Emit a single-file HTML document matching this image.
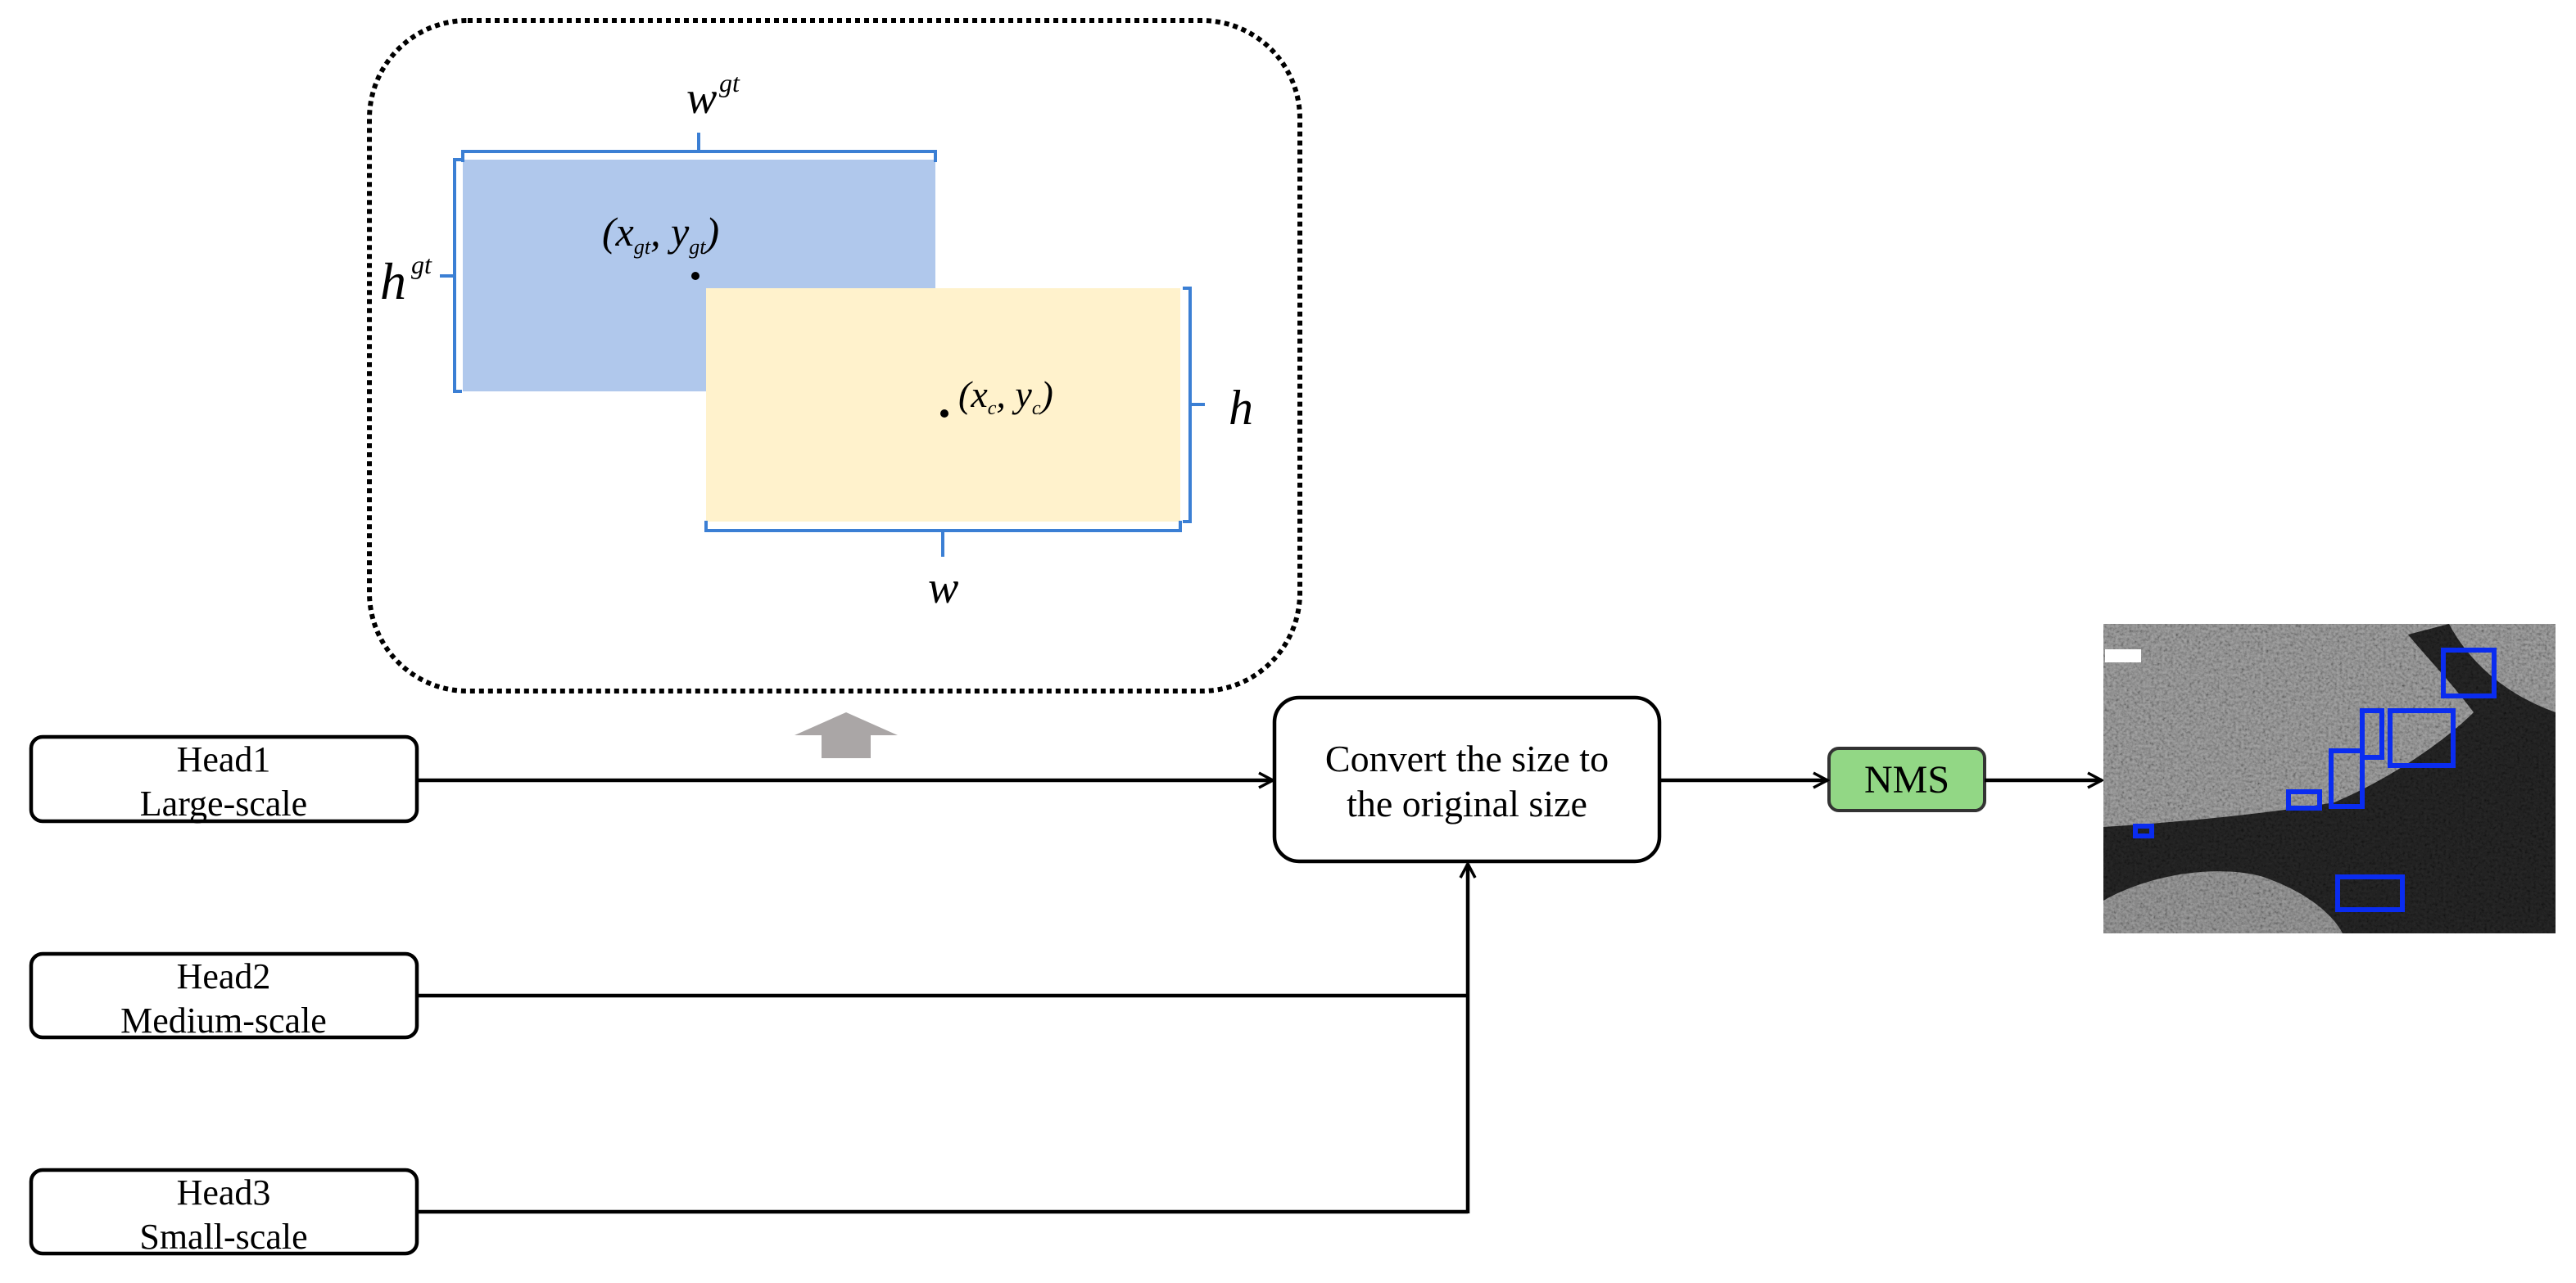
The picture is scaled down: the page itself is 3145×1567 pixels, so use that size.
<!DOCTYPE html>
<html><head><meta charset="utf-8"><style>
html,body{margin:0;padding:0;background:#fff}
svg{display:block}
text{font-family:"Liberation Serif",serif}
</style></head><body>
<svg width="3145" height="1567" viewBox="0 0 3145 1567" xmlns="http://www.w3.org/2000/svg">
<defs>
<marker id="ar" markerWidth="22" markerHeight="22" refX="19" refY="11" orient="auto" markerUnits="userSpaceOnUse">
<path d="M2,2 L19,11 L2,20" fill="none" stroke="#000" stroke-width="3.5"/>
</marker>
<filter id="noise" x="0" y="0" width="100%" height="100%">
<feTurbulence type="fractalNoise" baseFrequency="0.3" numOctaves="3" seed="3" result="n"/>
<feColorMatrix type="saturate" values="0" in="n" result="g"/>
<feComponentTransfer in="g" result="c"><feFuncR type="linear" slope="2.2" intercept="-0.5"/><feFuncG type="linear" slope="2.2" intercept="-0.5"/><feFuncB type="linear" slope="2.2" intercept="-0.5"/></feComponentTransfer>
<feBlend in="SourceGraphic" in2="c" mode="multiply"/>
</filter>
<clipPath id="imgclip"><rect x="2568" y="762" width="552" height="378"/></clipPath>
</defs>

<rect x="451" y="25" width="1136" height="819" rx="120" fill="none" stroke="#000" stroke-width="6" stroke-dasharray="6,5"/>

<rect x="565" y="195" width="577" height="283" fill="#b0c8ec"/>
<rect x="862" y="352" width="579" height="285" fill="#fff2cc"/>

<g fill="none" stroke="#3b7fd4" stroke-width="4">
<path d="M565,198 V185 H1142 V198 M853,185 V162"/>
<path d="M564,195 H555 V478 H564 M555,337 H537"/>
<path d="M1444,352 H1453 V637 H1444 M1453,494 H1471"/>
<path d="M862,636 V648 H1441 V636 M1151,648 V680"/>
</g>

<text x="838" y="138" font-size="56" font-style="italic">w</text>
<text x="878" y="112" font-size="32" font-style="italic">gt</text>
<text x="464" y="365" font-size="64" font-style="italic">h</text>
<text x="502" y="334" font-size="32" font-style="italic">gt</text>
<text x="1500" y="518" font-size="60" font-style="italic">h</text>
<text x="1133" y="736" font-size="56" font-style="italic">w</text>
<circle cx="849" cy="337" r="5" fill="#000"/>
<text x="735" y="300" font-size="50" font-style="italic">(x<tspan font-size="26" dy="10">gt</tspan><tspan dy="-10">, y</tspan><tspan font-size="26" dy="10">gt</tspan><tspan dy="-10">)</tspan></text>
<circle cx="1153" cy="505" r="5" fill="#000"/>
<text x="1170" y="497" font-size="46" font-style="italic">(x<tspan font-size="24" dy="9">c</tspan><tspan dy="-9">, y</tspan><tspan font-size="24" dy="9">c</tspan><tspan dy="-9">)</tspan></text>

<path d="M1033,870 L1096,898 L1063,898 L1063,926 L1003,926 L1003,898 L970,898 Z" fill="#aaa6a6"/>

<g fill="#fff" stroke="#000" stroke-width="4.5">
<rect x="38" y="900" width="471" height="103" rx="14"/>
<rect x="38" y="1165" width="471" height="102" rx="14"/>
<rect x="38" y="1429" width="471" height="102" rx="14"/>
<rect x="1556" y="852" width="470" height="200" rx="30"/>
</g>
<rect x="2233" y="914" width="190" height="76" rx="12" fill="#92d785" stroke="#333" stroke-width="4"/>
<g font-size="44" text-anchor="middle">
<text x="273" y="942">Head1</text><text x="273" y="996">Large-scale</text>
<text x="273" y="1207">Head2</text><text x="273" y="1261">Medium-scale</text>
<text x="273" y="1471">Head3</text><text x="273" y="1525">Small-scale</text>
<text x="1791" y="942" font-size="46">Convert the size to</text>
<text x="1791" y="997" font-size="46">the original size</text>
<text x="2328" y="968" font-size="48">NMS</text>
</g>

<g stroke="#000" stroke-width="4.5" fill="none">
<line x1="509" y1="953" x2="1554" y2="953" marker-end="url(#ar)"/>
<line x1="509" y1="1216" x2="1792" y2="1216"/>
<line x1="509" y1="1480" x2="1792" y2="1480"/>
<line x1="1792" y1="1482" x2="1792" y2="1055" marker-end="url(#ar)"/>
<line x1="2026" y1="953" x2="2231" y2="953" marker-end="url(#ar)"/>
<line x1="2423" y1="953" x2="2566" y2="953" marker-end="url(#ar)"/>
</g>

<g clip-path="url(#imgclip)">
<g filter="url(#noise)">
<rect x="2568" y="762" width="552" height="378" fill="#a0a0a0"/>
<path d="M2568,1010 C2650,1005 2760,995 2850,980 C2920,950 2985,905 3020,870 C2990,830 2960,800 2940,775 L2990,762 C3010,800 3050,845 3120,870 L3120,1140 L2568,1140 Z" fill="#262626"/>
<path d="M2568,1100 C2620,1070 2700,1055 2760,1070 C2820,1090 2850,1120 2860,1140 L2568,1140 Z" fill="#9a9a9a"/>
</g>
<g fill="none" stroke="#0a2cf0" stroke-width="6">
<rect x="2983" y="794" width="62" height="56"/>
<rect x="2918" y="868" width="77" height="67"/>
<rect x="2884" y="868" width="24" height="57"/>
<rect x="2846" y="917" width="38" height="68"/>
<rect x="2794" y="967" width="38" height="20"/>
<rect x="2607" y="1009" width="20" height="12"/>
<rect x="2854" y="1071" width="79" height="40"/>
</g>
<rect x="2570" y="793" width="44" height="16" fill="#fff"/>
</g>
</svg>
</body></html>
